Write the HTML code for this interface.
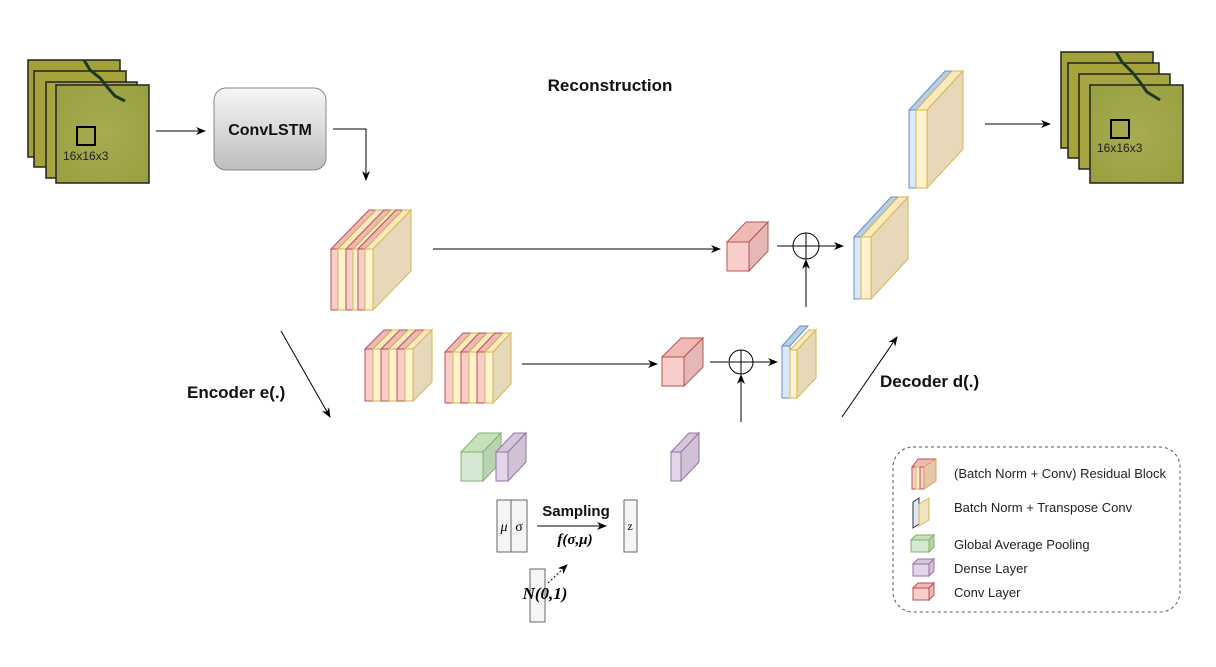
<!DOCTYPE html>
<html><head><meta charset="utf-8"><style>
html,body{margin:0;padding:0;background:#fff;}
svg{display:block;font-family:"Liberation Sans",sans-serif;}
</style></head><body>
<svg width="1216" height="667" viewBox="0 0 1216 667" xmlns="http://www.w3.org/2000/svg">
<defs>
<marker id="ar" markerWidth="10" markerHeight="8" refX="9" refY="4" orient="auto" markerUnits="userSpaceOnUse"><path d="M0,0 L10,4 L0,8 L3,4 Z" fill="#000"/></marker>
<linearGradient id="lg" x1="0" y1="0" x2="0" y2="1"><stop offset="0" stop-color="#f7f7f7"/><stop offset="1" stop-color="#bdbdbd"/></linearGradient>
<radialGradient id="sat" cx="0.5" cy="0.5" r="0.7"><stop offset="0" stop-color="#a8ab52"/><stop offset="1" stop-color="#98a040"/></radialGradient>
</defs>

<!-- Left image stack -->
<g stroke="#222" stroke-width="1.5">
<rect x="28" y="60" width="92" height="97" fill="#a3a236"/>
<rect x="34" y="71" width="92" height="96" fill="#a5a33a"/>
<rect x="46" y="82" width="91" height="96" fill="#a6a540"/>
<rect x="56" y="85" width="93" height="98" fill="url(#sat)"/>
</g>
<path d="M84,60 L90,70 L100,78 L108,88 L115,96 L125,101" stroke="#1e3a1e" stroke-width="3" fill="none"/>
<rect x="77" y="127" width="18" height="18" fill="none" stroke="#000" stroke-width="2"/>
<text x="63" y="160" font-size="12" fill="#222">16x16x3</text>

<!-- ConvLSTM -->
<rect x="214" y="88" width="112" height="82" rx="12" fill="url(#lg)" stroke="#888"/>
<text x="270" y="135" font-size="16" font-weight="bold" text-anchor="middle" fill="#111">ConvLSTM</text>
<line x1="156" y1="131" x2="205" y2="131" stroke="#000" marker-end="url(#ar)"/>
<polyline points="333,129 366,129 366,180" fill="none" stroke="#000" marker-end="url(#ar)"/>

<text x="610" y="91" font-size="17" font-weight="bold" text-anchor="middle" fill="#111">Reconstruction</text>

<!-- Top encoder block -->
<g stroke-width="1">
<polygon points="331,249 338,249 376,210 369,210" fill="#efb9b6" stroke="#b85450"/><rect x="331" y="249" width="7" height="61" fill="#f8cecc" stroke="#b85450"/>
<polygon points="338,249 346,249 384,210 376,210" fill="#fbe9be" stroke="#d6b656"/><rect x="338" y="249" width="8" height="61" fill="#fff2cc" stroke="#d6b656"/>
<polygon points="346,249 353,249 391,210 384,210" fill="#efb9b6" stroke="#b85450"/><rect x="346" y="249" width="7" height="61" fill="#f8cecc" stroke="#b85450"/>
<polygon points="353,249 358,249 396,210 391,210" fill="#fbe9be" stroke="#d6b656"/><rect x="353" y="249" width="5" height="61" fill="#fff2cc" stroke="#d6b656"/>
<polygon points="358,249 365,249 403,210 396,210" fill="#efb9b6" stroke="#b85450"/><rect x="358" y="249" width="7" height="61" fill="#f8cecc" stroke="#b85450"/>
<polygon points="365,249 373,249 411,210 403,210" fill="#fbe9be" stroke="#d6b656"/><rect x="365" y="249" width="8" height="61" fill="#fff2cc" stroke="#d6b656"/>
<polygon points="373,249 411,210 411,271 373,310" fill="#e6d8b8" stroke="#d6b656"/>
</g>
<line x1="433" y1="249" x2="720" y2="249" stroke="#000" marker-end="url(#ar)"/>

<!-- Row2 block1 -->
<g stroke-width="1">
<polygon points="365,349 373,349 392,330 384,330" fill="#efb9b6" stroke="#b85450"/><rect x="365" y="349" width="8" height="52" fill="#f8cecc" stroke="#b85450"/>
<polygon points="373,349 381,349 400,330 392,330" fill="#fbe9be" stroke="#d6b656"/><rect x="373" y="349" width="8" height="52" fill="#fff2cc" stroke="#d6b656"/>
<polygon points="381,349 389,349 408,330 400,330" fill="#efb9b6" stroke="#b85450"/><rect x="381" y="349" width="8" height="52" fill="#f8cecc" stroke="#b85450"/>
<polygon points="389,349 397,349 416,330 408,330" fill="#fbe9be" stroke="#d6b656"/><rect x="389" y="349" width="8" height="52" fill="#fff2cc" stroke="#d6b656"/>
<polygon points="397,349 405,349 424,330 416,330" fill="#efb9b6" stroke="#b85450"/><rect x="397" y="349" width="8" height="52" fill="#f8cecc" stroke="#b85450"/>
<polygon points="405,349 413,349 432,330 424,330" fill="#fbe9be" stroke="#d6b656"/><rect x="405" y="349" width="8" height="52" fill="#fff2cc" stroke="#d6b656"/>
<polygon points="413,349 432,330 432,382 413,401" fill="#e6d8b8" stroke="#d6b656"/>
</g>
<!-- Row2 block2 -->
<g stroke-width="1">
<polygon points="445,352 453,352 471,333 463,333" fill="#efb9b6" stroke="#b85450"/><rect x="445" y="352" width="8" height="51" fill="#f8cecc" stroke="#b85450"/>
<polygon points="453,352 461,352 479,333 471,333" fill="#fbe9be" stroke="#d6b656"/><rect x="453" y="352" width="8" height="51" fill="#fff2cc" stroke="#d6b656"/>
<polygon points="461,352 469,352 487,333 479,333" fill="#efb9b6" stroke="#b85450"/><rect x="461" y="352" width="8" height="51" fill="#f8cecc" stroke="#b85450"/>
<polygon points="469,352 477,352 495,333 487,333" fill="#fbe9be" stroke="#d6b656"/><rect x="469" y="352" width="8" height="51" fill="#fff2cc" stroke="#d6b656"/>
<polygon points="477,352 485,352 503,333 495,333" fill="#efb9b6" stroke="#b85450"/><rect x="477" y="352" width="8" height="51" fill="#f8cecc" stroke="#b85450"/>
<polygon points="485,352 493,352 511,333 503,333" fill="#fbe9be" stroke="#d6b656"/><rect x="485" y="352" width="8" height="51" fill="#fff2cc" stroke="#d6b656"/>
<polygon points="493,352 511,333 511,384 493,403" fill="#e6d8b8" stroke="#d6b656"/>
</g>
<line x1="522" y1="364" x2="657" y2="364" stroke="#000" marker-end="url(#ar)"/>

<!-- Red cube top -->
<polygon points="727,242 749,242 768,222 746,222" fill="#efb9b6" stroke="#b85450"/>
<polygon points="749,242 768,222 768,251 749,271" fill="#e3b8b6" stroke="#b85450"/>
<rect x="727" y="242" width="22" height="29" fill="#f8cecc" stroke="#b85450"/>
<line x1="777" y1="246" x2="793" y2="246" stroke="#000"/>
<circle cx="806" cy="246" r="13" fill="none" stroke="#000"/>
<line x1="793" y1="246" x2="819" y2="246" stroke="#000"/><line x1="806" y1="233" x2="806" y2="259" stroke="#000"/>
<line x1="819" y1="246" x2="843" y2="246" stroke="#000" marker-end="url(#ar)"/>
<line x1="806" y1="307" x2="806" y2="260" stroke="#000" marker-end="url(#ar)"/>

<!-- Red cube 2 -->
<polygon points="662,357 684,357 703,338 681,338" fill="#efb9b6" stroke="#b85450"/>
<polygon points="684,357 703,338 703,367 684,386" fill="#e3b8b6" stroke="#b85450"/>
<rect x="662" y="357" width="22" height="29" fill="#f8cecc" stroke="#b85450"/>
<line x1="710" y1="362" x2="728" y2="362" stroke="#000"/>
<circle cx="741" cy="362" r="12" fill="none" stroke="#000"/>
<line x1="729" y1="362" x2="753" y2="362" stroke="#000"/><line x1="741" y1="350" x2="741" y2="374" stroke="#000"/>
<line x1="753" y1="362" x2="777" y2="362" stroke="#000" marker-end="url(#ar)"/>
<line x1="741" y1="422" x2="741" y2="375" stroke="#000" marker-end="url(#ar)"/>

<!-- Small decoder block -->
<polygon points="782,346 790,346 808,326 800,326" fill="#b7cfe6" stroke="#6c8ebf"/>
<rect x="782" y="346" width="8" height="52" fill="#dae8fc" stroke="#6c8ebf"/>
<polygon points="790,350 797,350 816,330 809,330" fill="#fbe9be" stroke="#d6b656"/>
<polygon points="797,350 816,330 816,378 797,398" fill="#e6d8b8" stroke="#d6b656"/>
<rect x="790" y="350" width="7" height="48" fill="#fff2cc" stroke="#d6b656"/>

<!-- Mid decoder block -->
<polygon points="854,237 861,237 898,197 891,197" fill="#b7cfe6" stroke="#6c8ebf"/>
<rect x="854" y="237" width="7" height="62" fill="#dae8fc" stroke="#6c8ebf"/>
<polygon points="861,237 871,237 908,197 898,197" fill="#fbe9be" stroke="#d6b656"/>
<polygon points="871,237 908,197 908,259 871,299" fill="#e6d8b8" stroke="#d6b656"/>
<rect x="861" y="237" width="10" height="62" fill="#fff2cc" stroke="#d6b656"/>

<!-- Top decoder block -->
<polygon points="909,110 916,110 952,71 945,71" fill="#b7cfe6" stroke="#6c8ebf"/>
<rect x="909" y="110" width="7" height="78" fill="#dae8fc" stroke="#6c8ebf"/>
<polygon points="916,110 927,110 963,71 952,71" fill="#fbe9be" stroke="#d6b656"/>
<polygon points="927,110 963,71 963,149 927,188" fill="#e6d8b8" stroke="#d6b656"/>
<rect x="916" y="110" width="11" height="78" fill="#fff2cc" stroke="#d6b656"/>
<line x1="985" y1="124" x2="1050" y2="124" stroke="#000" marker-end="url(#ar)"/>

<!-- Right image stack -->
<g stroke="#222" stroke-width="1.5">
<rect x="1061" y="52" width="92" height="96" fill="#a3a236"/>
<rect x="1068" y="63" width="91" height="95" fill="#a5a33a"/>
<rect x="1079" y="74" width="91" height="95" fill="#a6a540"/>
<rect x="1090" y="85" width="93" height="98" fill="url(#sat)"/>
</g>
<path d="M1116,52 L1122,62 L1132,72 L1140,82 L1147,92 L1160,100" stroke="#1e3a1e" stroke-width="3" fill="none"/>
<rect x="1111" y="120" width="18" height="18" fill="none" stroke="#000" stroke-width="2"/>
<text x="1097" y="152" font-size="12" fill="#222">16x16x3</text>

<!-- Encoder/Decoder arrows & labels -->
<line x1="281" y1="331" x2="330" y2="417" stroke="#000" marker-end="url(#ar)"/>
<line x1="842" y1="417" x2="897" y2="337" stroke="#000" marker-end="url(#ar)"/>
<text x="187" y="398" font-size="17" font-weight="bold" fill="#111">Encoder e(.)</text>
<text x="880" y="387" font-size="17" font-weight="bold" fill="#111">Decoder d(.)</text>

<!-- Green & purple -->
<polygon points="461,452 483,452 501,433 479,433" fill="#c5e0bd" stroke="#82b366"/>
<polygon points="483,452 501,433 501,462 483,481" fill="#b9d3b0" stroke="#82b366"/>
<rect x="461" y="452" width="22" height="29" fill="#d5e8d4" stroke="#82b366"/>
<polygon points="496,452 508,452 526,433 514,433" fill="#d6c6dd" stroke="#9673a6"/>
<polygon points="508,452 526,433 526,462 508,481" fill="#d0c2d4" stroke="#9673a6"/>
<rect x="496" y="452" width="12" height="29" fill="#e1d5e7" stroke="#9673a6"/>
<polygon points="671,452 681,452 699,433 689,433" fill="#d6c6dd" stroke="#9673a6"/>
<polygon points="681,452 699,433 699,462 681,481" fill="#d0c2d4" stroke="#9673a6"/>
<rect x="671" y="452" width="10" height="29" fill="#e1d5e7" stroke="#9673a6"/>

<!-- Sampling -->
<rect x="497" y="500" width="14" height="52" fill="#f5f5f5" stroke="#666"/>
<rect x="511" y="500" width="16" height="52" fill="#f5f5f5" stroke="#666"/>
<text x="504" y="531" font-size="14" font-style="italic" text-anchor="middle" font-family="Liberation Serif,serif">μ</text>
<text x="519" y="531" font-size="14" text-anchor="middle" font-family="Liberation Serif,serif">σ</text>
<rect x="624" y="500" width="13" height="52" fill="#f5f5f5" stroke="#666"/>
<text x="630" y="530" font-size="12" text-anchor="middle" font-family="Liberation Serif,serif">z</text>
<text x="576" y="516" font-size="15" font-weight="bold" text-anchor="middle" fill="#111">Sampling</text>
<line x1="537" y1="526" x2="606" y2="526" stroke="#000" marker-end="url(#ar)"/>
<text x="575" y="544" font-size="15" font-weight="bold" font-style="italic" text-anchor="middle" font-family="Liberation Serif,serif">f(σ,μ)</text>
<rect x="530" y="569" width="15" height="53" fill="#f5f5f5" stroke="#666"/>
<text x="545" y="599" font-size="17" font-weight="bold" font-style="italic" text-anchor="middle" font-family="Liberation Serif,serif">N(0,1)</text>
<line x1="548" y1="583" x2="567" y2="565" stroke="#000" stroke-dasharray="2,2" marker-end="url(#ar)"/>

<!-- Legend -->
<rect x="893" y="447" width="287" height="165" rx="20" fill="none" stroke="#555" stroke-dasharray="3,3"/>
<g stroke-width="1">
<polygon points="912,467 918,459 935,459 929,467" fill="#efb9b6" stroke="#b85450"/>
<rect x="912" y="467" width="4" height="22" fill="#f8cecc" stroke="#b85450"/>
<rect x="916" y="467" width="4" height="22" fill="#fff2cc" stroke="#d6b656"/>
<rect x="920" y="467" width="4" height="22" fill="#f8cecc" stroke="#b85450"/>
<polygon points="924,467 936,459 936,481 924,489" fill="#e6c8a8" stroke="#d6a056"/>
<polygon points="913,502 919,498 919,524 913,528" fill="#dae8fc" stroke="#333"/>
<polygon points="919,504 929,498 929,520 919,526" fill="#f2e3bf" stroke="#d6b656"/>
<polygon points="911,540 916,535 934,535 929,540" fill="#c5e0bd" stroke="#82b366"/>
<rect x="911" y="540" width="18" height="12" fill="#d5e8d4" stroke="#82b366"/>
<polygon points="929,540 934,535 934,547 929,552" fill="#b9d3b0" stroke="#82b366"/>
<polygon points="913,564 918,559 934,559 929,564" fill="#d6c6dd" stroke="#9673a6"/>
<rect x="913" y="564" width="16" height="12" fill="#e1d5e7" stroke="#9673a6"/>
<polygon points="929,564 934,559 934,571 929,576" fill="#d0c2d4" stroke="#9673a6"/>
<polygon points="913,588 918,583 934,583 929,588" fill="#efb9b6" stroke="#b85450"/>
<rect x="913" y="588" width="16" height="12" fill="#f8cecc" stroke="#b85450"/>
<polygon points="929,588 934,583 934,595 929,600" fill="#e3b8b6" stroke="#b85450"/>
</g>
<g font-size="13" fill="#222">
<text x="954" y="478" textLength="212">(Batch Norm + Conv) Residual Block</text>
<text x="954" y="512">Batch Norm + Transpose Conv</text>
<text x="954" y="549">Global Average Pooling</text>
<text x="954" y="573">Dense Layer</text>
<text x="954" y="597">Conv Layer</text>
</g>
</svg>
</body></html>
